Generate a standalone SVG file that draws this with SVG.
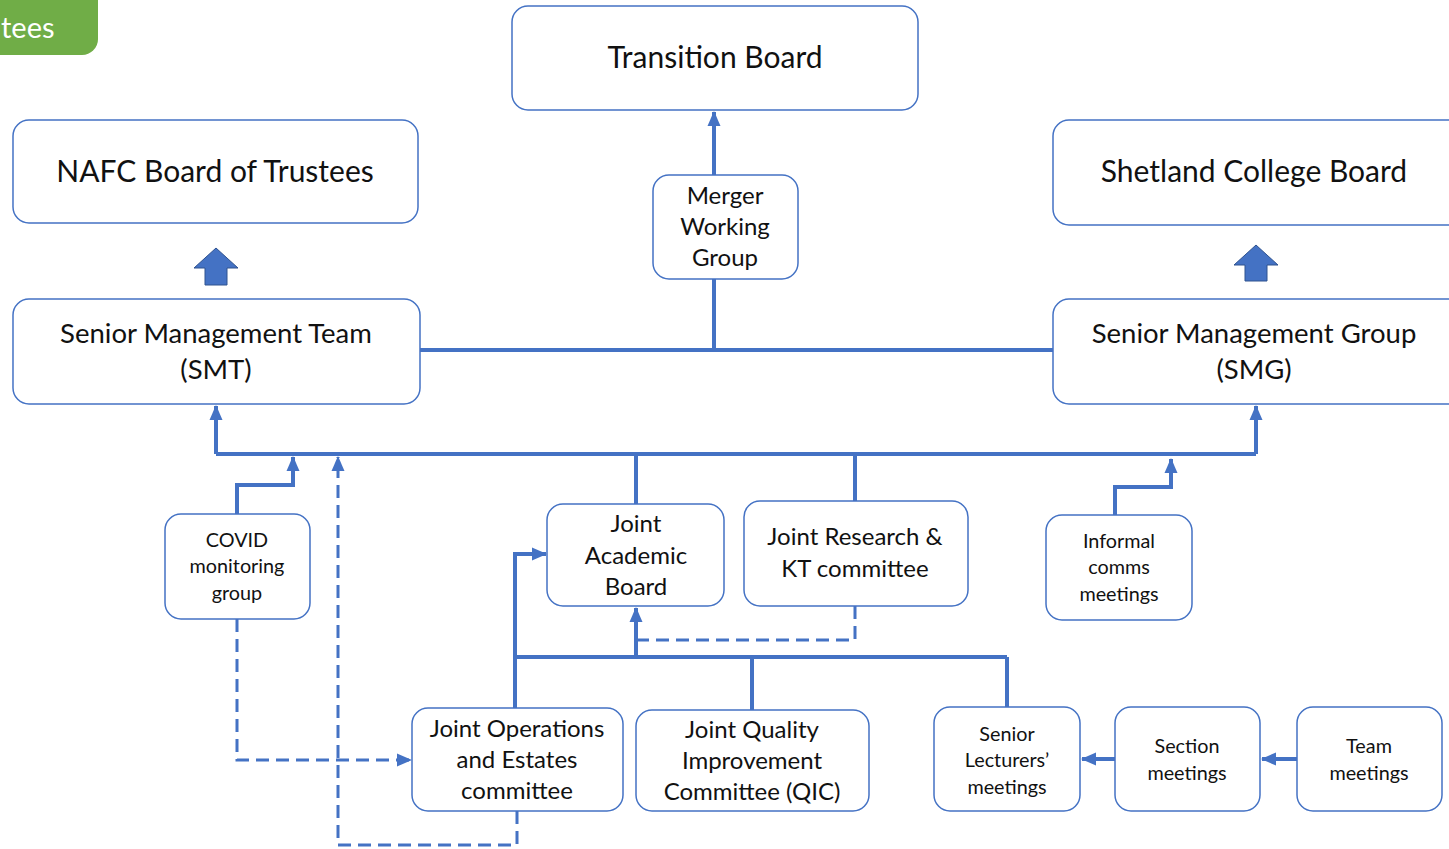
<svg xmlns="http://www.w3.org/2000/svg" width="1449" height="849" viewBox="0 0 1449 849">
<style>
.box{fill:#fff;stroke:#4472C4;stroke-width:1.5}
.t{font-family:Lato,"Open Sans","Liberation Sans",sans-serif;fill:#111;text-anchor:middle}
.big{font-size:30px}
.mgr{font-size:27.5px}
.mid{font-size:24px}
.sm{font-size:19.8px}
.ln{fill:none;stroke:#4472C4;stroke-width:4}
.ds{fill:none;stroke:#4472C4;stroke-width:3;stroke-dasharray:13 7}
.blk{fill:#4472C4;stroke:#2F528F;stroke-width:1}
</style>
<defs>
<marker id="ah" markerUnits="userSpaceOnUse" markerWidth="16" markerHeight="16" viewBox="0 0 16 16" refX="14" refY="8" orient="auto">
<path d="M0,1.5 L15,8 L0,14.5 Z" fill="#4472C4"/>
</marker>
</defs>
<rect width="1449" height="849" fill="#fff"/>
<g id="tag">
<rect x="-30" y="-30" width="128" height="85" rx="16" fill="#70AD47"/>
<text x="1" y="38" font-family="Lato,'Open Sans',sans-serif" font-size="29" fill="#fff">tees</text>
</g>
<g id="connectors">
<path class="ln" d="M714,175 V112" marker-end="url(#ah)"/>
<path class="ln" d="M420,350 H1053 M714,350 V279"/>
<path class="ln" d="M216,454 H1256"/>
<path class="ln" d="M216,454 V406" marker-end="url(#ah)"/>
<path class="ln" d="M1256,454 V406" marker-end="url(#ah)"/>
<path class="ln" d="M636,454 V504 M855,454 V501"/>
<path class="ln" d="M237,514 V485 H293 V457" marker-end="url(#ah)"/>
<path class="ln" d="M1115,515 V487 H1171 V459" marker-end="url(#ah)"/>
<path class="ds" d="M517,811 V845 H338 V457" marker-end="url(#ah)"/>
<path class="ds" d="M237,619 V760 H411" marker-end="url(#ah)"/>
<path class="ln" d="M515,657 H1007 M752,657 V710 M1007,657 V707"/>
<path class="ln" d="M515,708 V554 H546" marker-end="url(#ah)"/>
<path class="ln" d="M636,657 V608" marker-end="url(#ah)"/>
<path class="ds" d="M855,606 V640 H638"/>
<path class="ln" d="M1115,759 H1082" marker-end="url(#ah)"/>
<path class="ln" d="M1297,759 H1262" marker-end="url(#ah)"/>
</g>
<g id="arrow-nafc"><path class="blk" d="M216,248 L238,268 L227,268 L227,285 L205,285 L205,268 L194,268 Z"/></g>
<g id="arrow-shet"><path class="blk" d="M1256,245 L1278,265 L1267,265 L1267,281 L1245,281 L1245,265 L1234,265 Z"/></g>
<g id="transition-board"><rect class="box" x="512" y="6" width="406" height="104" rx="16"/><text class="t big" x="715" y="68">Transition Board</text></g>
<g id="nafc-board"><rect class="box" x="13" y="120" width="405" height="103" rx="16"/><text class="t big" x="215" y="182">NAFC Board of Trustees</text></g>
<g id="shetland-board"><rect class="box" x="1053" y="120" width="420" height="105" rx="16"/><text class="t big" x="1254" y="182">Shetland College Board</text></g>
<g id="merger"><rect class="box" x="653" y="175" width="145" height="104" rx="16"/><text class="t mid" x="725" y="204">Merger</text><text class="t mid" x="725" y="235">Working</text><text class="t mid" x="725" y="266">Group</text></g>
<g id="smt"><rect class="box" x="13" y="299" width="407" height="105" rx="16"/><text class="t mgr" x="216" y="343">Senior Management Team</text><text class="t mgr" x="216" y="379">(SMT)</text></g>
<g id="smg"><rect class="box" x="1053" y="299" width="420" height="105" rx="16"/><text class="t mgr" x="1254" y="343">Senior Management Group</text><text class="t mgr" x="1254" y="379">(SMG)</text></g>
<g id="covid"><rect class="box" x="165" y="514" width="145" height="105" rx="16"/><text class="t sm" x="237" y="547">COVID</text><text class="t sm" x="237" y="573">monitoring</text><text class="t sm" x="237" y="600">group</text></g>
<g id="jab"><rect class="box" x="547" y="504" width="177" height="102" rx="16"/><text class="t mid" x="636" y="532">Joint</text><text class="t mid" x="636" y="564">Academic</text><text class="t mid" x="636" y="595">Board</text></g>
<g id="jrkt"><rect class="box" x="744" y="501" width="224" height="105" rx="16"/><text class="t mid" x="855" y="545">Joint Research &amp;</text><text class="t mid" x="855" y="577">KT committee</text></g>
<g id="informal"><rect class="box" x="1046" y="515" width="146" height="105" rx="16"/><text class="t sm" x="1119" y="548">Informal</text><text class="t sm" x="1119" y="574">comms</text><text class="t sm" x="1119" y="601">meetings</text></g>
<g id="joe"><rect class="box" x="412" y="708" width="211" height="103" rx="16"/><text class="t mid" x="517" y="737">Joint Operations</text><text class="t mid" x="517" y="768">and Estates</text><text class="t mid" x="517" y="799">committee</text></g>
<g id="jqic"><rect class="box" x="636" y="710" width="233" height="101" rx="16"/><text class="t mid" x="752" y="738">Joint Quality</text><text class="t mid" x="752" y="769">Improvement</text><text class="t mid" x="752" y="800">Committee (QIC)</text></g>
<g id="slm"><rect class="box" x="934" y="707" width="146" height="104" rx="16"/><text class="t sm" x="1007" y="741">Senior</text><text class="t sm" x="1007" y="767">Lecturers’</text><text class="t sm" x="1007" y="794">meetings</text></g>
<g id="section"><rect class="box" x="1115" y="707" width="145" height="104" rx="16"/><text class="t sm" x="1187" y="753">Section</text><text class="t sm" x="1187" y="780">meetings</text></g>
<g id="team"><rect class="box" x="1297" y="707" width="145" height="104" rx="16"/><text class="t sm" x="1369" y="753">Team</text><text class="t sm" x="1369" y="780">meetings</text></g>
</svg>
